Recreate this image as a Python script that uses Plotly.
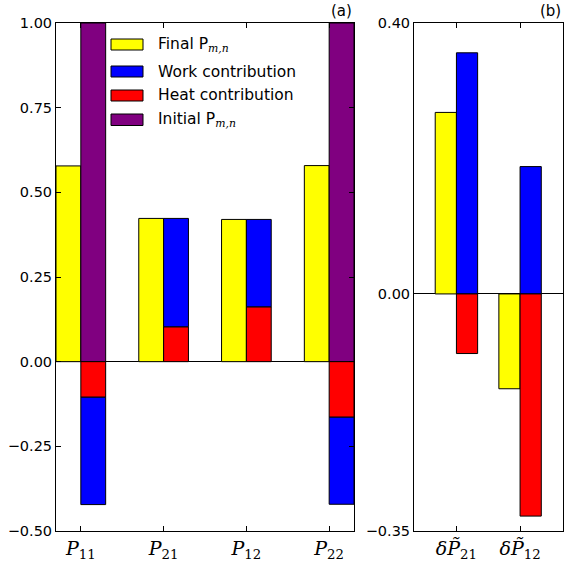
import plotly.graph_objects as go

# ---------------- data ----------------
categories = ["P11", "P21", "P12", "P22"]
cat_labels = ["<i>P</i><sub>11</sub>", "<i>P</i><sub>21</sub>",
              "<i>P</i><sub>12</sub>", "<i>P</i><sub>22</sub>"]
final_p = [0.578, 0.423, 0.420, 0.579]
work_contrib = [-0.317, 0.320, 0.258, -0.257]
heat_contrib = [-0.105, 0.103, 0.162, -0.164]
initial_p = [1.0, 0.0, 0.0, 1.0]

delta_cats = ["dP21", "dP12"]
delta_labels = ["<i>δP̃</i><sub>21</sub>", "<i>δP̃</i><sub>12</sub>"]
delta_final = [0.268, -0.140]
delta_work = [0.356, 0.188]
delta_heat = [-0.088, -0.328]

left_yticks = [-0.5, -0.25, 0.0, 0.25, 0.5, 0.75, 1.0]
right_yticks = [-0.35, 0.0, 0.40]

SUB = "<sub><span style=\"font-family:'DejaVu Serif'\"><i>m,n</i></span></sub>"
legend_labels = ["Final P" + SUB, "Work contribution",
                 "Heat contribution", "Initial P" + SUB]
C_FINAL, C_WORK, C_HEAT, C_INIT = "#ffff00", "#0000ff", "#ff0000", "#800080"
legend_colors = [C_FINAL, C_WORK, C_HEAT, C_INIT]

W = 0.3       # bar width, panel (a)
WR = 1 / 3    # bar width, panel (b)

fig = go.Figure()
edge = dict(color="black", width=1)

# ---------------- panel (a) ----------------
n = len(categories)
xa_y = [i + W / 2 for i in range(n)]
xa_o = [i + 1.5 * W for i in range(n)]

fig.add_trace(go.Bar(x=xa_y, y=final_p, width=W, base=0, marker=dict(color=C_FINAL, line=edge),
                     xaxis="x", yaxis="y", showlegend=False))
idx = [i for i in range(n) if initial_p[i] != 0]
fig.add_trace(go.Bar(x=[xa_o[i] for i in idx], y=[initial_p[i] for i in idx], width=W, base=0,
                     marker=dict(color=C_INIT, line=edge), xaxis="x", yaxis="y", showlegend=False))
fig.add_trace(go.Bar(x=xa_o, y=heat_contrib, width=W, base=0, marker=dict(color=C_HEAT, line=edge),
                     xaxis="x", yaxis="y", showlegend=False))
fig.add_trace(go.Bar(x=xa_o, y=work_contrib, width=W, base=heat_contrib,
                     marker=dict(color=C_WORK, line=edge), xaxis="x", yaxis="y", showlegend=False))

# ---------------- panel (b) ----------------
m = len(delta_cats)
xb_y = [i + WR / 2 for i in range(m)]
xb_o = [i + 1.5 * WR for i in range(m)]
fig.add_trace(go.Bar(x=xb_y, y=delta_final, width=WR, base=0, marker=dict(color=C_FINAL, line=edge),
                     xaxis="x2", yaxis="y2", showlegend=False))
fig.add_trace(go.Bar(x=xb_o, y=delta_work, width=WR, base=0, marker=dict(color=C_WORK, line=edge),
                     xaxis="x2", yaxis="y2", showlegend=False))
fig.add_trace(go.Bar(x=xb_o, y=delta_heat, width=WR, base=0, marker=dict(color=C_HEAT, line=edge),
                     xaxis="x2", yaxis="y2", showlegend=False))

FIG_W, FIG_H = 566, 561
def px(xp): return xp / FIG_W
def py(yp): return 1 - yp / FIG_H

ydom = [py(531), py(23)]
tickfont = dict(family="DejaVu Sans", size=14.5, color="black")
xtickfont = dict(family="DejaVu Serif", size=19, color="black")
common_axis = dict(showline=True, linecolor="black", linewidth=1, mirror="allticks",
                   ticks="inside", ticklen=5, tickcolor="black", tickwidth=1,
                   showgrid=False, automargin=False)

fig.update_layout(
    width=FIG_W, height=FIG_H,
    margin=dict(l=0, r=0, t=0, b=0),
    paper_bgcolor="white", plot_bgcolor="white",
    barmode="overlay",
    xaxis=dict(domain=[px(56), px(354)], range=[0, n - 1 + 2 * W],
               tickvals=[i + W for i in range(n)], ticktext=cat_labels,
               tickfont=xtickfont, zeroline=False, anchor="y", **common_axis),
    yaxis=dict(domain=ydom, range=[-0.5, 1.0], tickvals=left_yticks, tickformat=".2f",
               tickfont=tickfont, zeroline=True, zerolinecolor="black", zerolinewidth=1,
               anchor="x", **common_axis),
    xaxis2=dict(domain=[px(414), px(562.5)], range=[-WR, m - 1 + 3 * WR],
                tickvals=[i + WR for i in range(m)], ticktext=delta_labels,
                tickfont=xtickfont, zeroline=False, anchor="y2", **common_axis),
    yaxis2=dict(domain=ydom, range=[-0.35, 0.40], tickvals=right_yticks, tickformat=".2f",
                tickfont=tickfont, zeroline=True, zerolinecolor="black", zerolinewidth=1,
                anchor="x2", **common_axis),
)

# panel labels
fig.add_annotation(text="(a)", xref="paper", yref="paper", x=px(354), y=py(22),
                   xanchor="right", yanchor="bottom", showarrow=False,
                   font=dict(family="DejaVu Sans", size=15, color="black"))
fig.add_annotation(text="(b)", xref="paper", yref="paper", x=px(563), y=py(22),
                   xanchor="right", yanchor="bottom", showarrow=False,
                   font=dict(family="DejaVu Sans", size=15, color="black"))

# manual legend
rows = [(39, 50), (66, 77), (90, 101), (114, 125.5)]
for (t, b), lab, col in zip(rows, legend_labels, legend_colors):
    fig.add_shape(type="rect", xref="paper", yref="paper",
                  x0=px(111), x1=px(143), y0=py(b), y1=py(t),
                  fillcolor=col, line=dict(color="black", width=1))
    fig.add_annotation(text=lab, xref="paper", yref="paper", x=px(156), y=py((t + b) / 2),
                       xanchor="left", yanchor="middle", showarrow=False,
                       font=dict(family="DejaVu Sans", size=15.5, color="black"))

fig.write_html("out.html")
